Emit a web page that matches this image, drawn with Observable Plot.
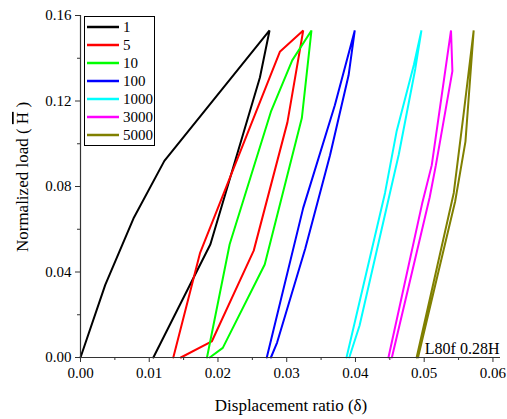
<!DOCTYPE html>
<html>
<head>
<meta charset="utf-8">
<script src="https://cdn.jsdelivr.net/npm/d3@7"></script>
<script src="https://cdn.jsdelivr.net/npm/@observablehq/plot@0.6"></script>
<style>
  html, body { margin: 0; padding: 0; background: #fff; }
  svg { display: block; }
</style>
</head>
<body>
<div id="chart"></div>
<script>
// ---- Data ----
const seriesNames = ["1", "5", "10", "100", "1000", "3000", "5000"];
const seriesColors = ["#000000", "#ff0000", "#00ff00", "#0000ff", "#00ffff", "#ff00ff", "#808000"];

const disp_1 = [0, 0.0036, 0.0077, 0.0122, 0.0275, 0.0261, 0.0189, 0.0106];
const load_1 = [0, 0.034, 0.065, 0.092, 0.153, 0.131, 0.053, 0];

const disp_5 = [0.0135, 0.0174, 0.0290, 0.0324, 0.0301, 0.0252, 0.0191, 0.0146];
const load_5 = [0, 0.049, 0.143, 0.153, 0.110, 0.050, 0.0075, 0];

const disp_10 = [0.0184, 0.0217, 0.0277, 0.0308, 0.0336, 0.0322, 0.0268, 0.0207, 0.0188];
const load_10 = [0, 0.053, 0.115, 0.139, 0.153, 0.112, 0.0435, 0.0045, 0];

const disp_100 = [0.0271, 0.0324, 0.0370, 0.0399, 0.0390, 0.0363, 0.0327, 0.0286, 0.0277];
const load_100 = [0, 0.070, 0.118, 0.153, 0.132, 0.0946, 0.051, 0.007, 0];

const disp_1000 = [0.0387, 0.0443, 0.0460, 0.0485, 0.0496, 0.0487, 0.0463, 0.0406, 0.0391];
const load_1000 = [0, 0.077, 0.106, 0.137, 0.153, 0.135, 0.095, 0.015, 0];

const disp_3000 = [0.0448, 0.0497, 0.0511, 0.0539, 0.0541, 0.0517, 0.0508, 0.0453];
const load_3000 = [0, 0.072, 0.090, 0.153, 0.134, 0.090, 0.075, 0];

const disp_5000 = [0.0489, 0.0543, 0.0557, 0.0572, 0.0560, 0.0545, 0.0491];
const load_5000 = [0, 0.077, 0.113, 0.153, 0.101, 0.073, 0];

const xMajorTicks = [0, 0.01, 0.02, 0.03, 0.04, 0.05, 0.06];
const xMinorTicks = [0.005, 0.015, 0.025, 0.035, 0.045, 0.055];
const yMajorTicks = [0, 0.04, 0.08, 0.12, 0.16];
const yMinorTicks = [0.02, 0.06, 0.10, 0.14];

const xTitle = "Displacement ratio (δ)";
const yTitleStart = "Normalized load ( ";
const yTitleSym = "H";
const yTitleEnd = " )";
const annotation = "L80f 0.28H";

// ---- Build table ----
const allDisp = [disp_1, disp_5, disp_10, disp_100, disp_1000, disp_3000, disp_5000];
const allLoad = [load_1, load_5, load_10, load_100, load_1000, load_3000, load_5000];
const rows = [];
seriesNames.forEach((name, i) => {
  allDisp[i].forEach((x, j) => rows.push({series: name, x, y: allLoad[i][j]}));
});

const font = "'Liberation Serif', 'Times New Roman', serif";

const chart = Plot.plot({
  width: 507,
  height: 419,
  marginLeft: 80,
  marginRight: 7,
  marginTop: 15,
  marginBottom: 62,
  style: {fontFamily: font, fontSize: "15px", color: "#000", background: "#fff"},
  x: {domain: [0, 0.0611]},
  y: {domain: [0, 0.16]},
  color: {domain: seriesNames, range: seriesColors},
  marks: [
    Plot.line(rows, {x: "x", y: "y", z: "series", stroke: "series", strokeWidth: 2, strokeLinejoin: "miter"}),
    Plot.axisX({ticks: xMajorTicks, tickFormat: d3.format(".2f"), tickSize: 5, tickPadding: 5, label: null, stroke: "#333"}),
    Plot.axisX({ticks: xMinorTicks, tickFormat: () => "", tickSize: 3, label: null, stroke: "#333"}),
    Plot.axisY({ticks: yMajorTicks, tickFormat: d3.format(".2f"), tickSize: 5, tickPadding: 4, label: null, stroke: "#333"}),
    Plot.axisY({ticks: yMinorTicks, tickFormat: () => "", tickSize: 3, label: null, stroke: "#333"}),
    Plot.ruleY([0], {stroke: "#333", strokeWidth: 1.2}),
    Plot.ruleX([0], {stroke: "#333", strokeWidth: 1.2}),
    Plot.text([annotation], {x: 0.0611, y: 0, frameAnchor: "bottom-right", textAnchor: "end", lineAnchor: "bottom", dx: -1, dy: -4, fontSize: 16, fill: "#000"})
  ]
});

const svg = d3.select(chart);

// axis titles
svg.append("text")
  .attr("x", 291).attr("y", 411)
  .attr("text-anchor", "middle")
  .style("font-family", font).style("font-size", "17px").attr("fill", "#000")
  .text(xTitle);

const yt = svg.append("text")
  .attr("transform", "translate(28,177) rotate(-90)")
  .attr("text-anchor", "middle")
  .style("font-family", font).style("font-size", "17px").attr("fill", "#000");
yt.append("tspan").text(yTitleStart);
yt.append("tspan").style("text-decoration", "overline").text(yTitleSym);
yt.append("tspan").text(yTitleEnd);

// legend
const lg = svg.append("g").attr("transform", "translate(84,16)");
lg.append("rect").attr("x", 0.5).attr("y", 0.5).attr("width", 70).attr("height", 129)
  .attr("fill", "#fff").attr("stroke", "#000").attr("stroke-width", 1);
seriesNames.forEach((name, i) => {
  const yy = 11 + i * 18;
  lg.append("line").attr("x1", 3).attr("x2", 35).attr("y1", yy).attr("y2", yy)
    .attr("stroke", seriesColors[i]).attr("stroke-width", 2.5);
  lg.append("text").attr("x", 39).attr("y", yy).attr("dy", "0.35em")
    .attr("text-anchor", "start")
    .style("font-family", font).style("font-size", "15px").attr("fill", "#000")
    .text(name);
});

document.getElementById("chart").appendChild(chart);
</script>
</body>
</html>
